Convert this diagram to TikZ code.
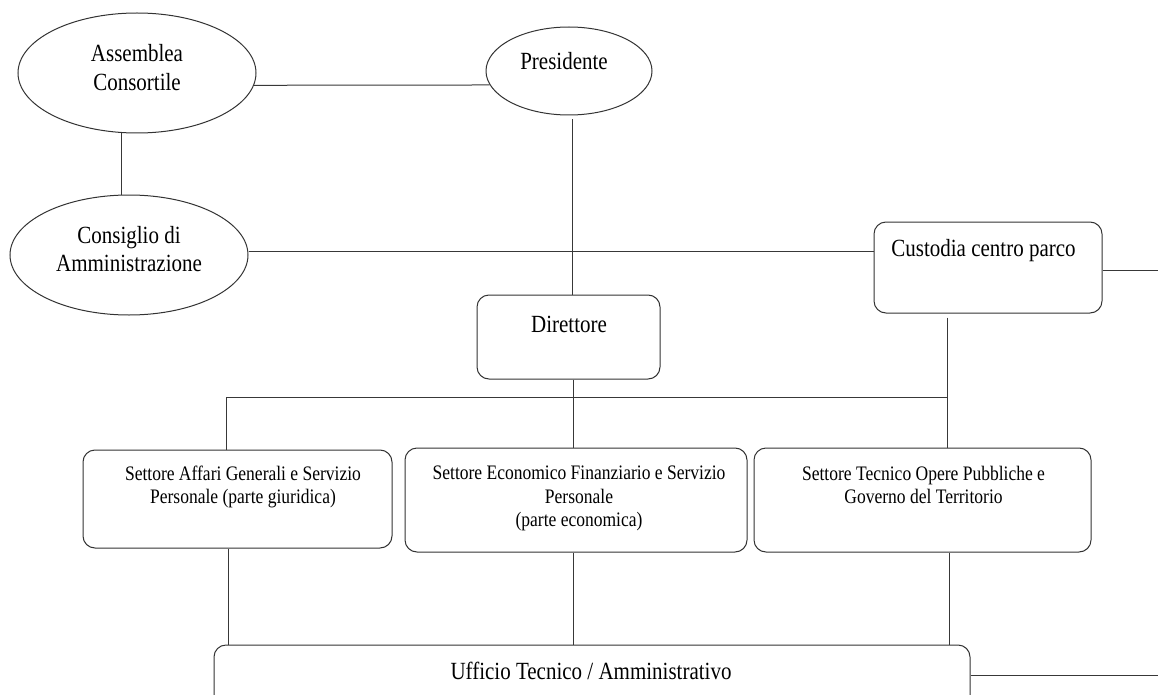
\documentclass[tikz,border=0pt]{standalone}
\usepackage{fontspec}
\setmainfont{Liberation Serif}
\newfontfamily\tnr[FakeStretch=0.85]{Liberation Serif}
\usetikzlibrary{shapes.geometric}
\begin{document}
\begin{tikzpicture}[x=1pt,y=-1pt,
  conn/.style={draw=black!78, line width=1pt},
  oval/.style={draw=black!80, line width=1pt, ellipse, inner sep=0pt},
  rbox/.style={draw=black!80, line width=1pt, rectangle, rounded corners=12pt, inner sep=0pt},
  big/.style={font=\tnr\fontsize{24.7}{28.5}\selectfont, align=center, inner sep=0pt, text=black},
  small/.style={font=\tnr\fontsize{20.6}{23.5}\selectfont, align=center, inner sep=0pt, text=black}]
\path[use as bounding box] (0,0) rectangle (1158,695);
\begin{scope}
\clip (0,0) rectangle (1158,695);
\fill[white] (0,0) rectangle (1158,695);

% shapes
\node[oval, minimum width=238pt, minimum height=120pt] (ass) at (137,73) {};
\node[oval, minimum width=166pt, minimum height=88pt] (pres) at (569,71) {};
\node[oval, minimum width=238pt, minimum height=120pt] (cons) at (129,255) {};
\node[rbox, minimum width=228pt, minimum height=91pt] (cust) at (988,267.5) {};
\node[rbox, minimum width=183pt, minimum height=84pt] (dir) at (568.5,337) {};
\node[rbox, minimum width=309pt, minimum height=98pt] (s1) at (237.5,499) {};
\node[rbox, minimum width=342pt, minimum height=104pt] (s2) at (576,500) {};
\node[rbox, minimum width=337pt, minimum height=104pt] (s3) at (922.5,500) {};
\node[rbox, minimum width=756pt, minimum height=100pt] (uff) at (592,695) {};

% texts
\node[big] (tass) at (137,67.5) {Assemblea\\Consortile};
\node[big] (tpres) at (564,61.5) {Presidente};
\node[big] (tcons) at (129,249) {Consiglio di\\Amministrazione};
\node[big] (tcust) at (983.5,251) {Custodia centro parco};
\node[big] (tdir) at (569,324.5) {Direttore};
\node[small] (ts1) at (243,487) {Settore Affari Generali e Servizio\\Personale (parte giuridica)};
\node[small] (ts2) at (579,498.5) {Settore Economico Finanziario e Servizio\\Personale\\(parte economica)};
\node[small] (ts3) at (923.5,485) {Settore Tecnico Opere Pubbliche e\\Governo del Territorio};
\node[big] (tuff) at (591,671) {Ufficio Tecnico / Amministrativo};

% connectors
\draw[conn] (ass.354) -- (pres.190);
\draw[conn] (ass.south -| 121,0) -- (cons.north -| 121,0);
\draw[conn] (cons.east |- 0,251) -- (cust.west |- 0,251);
\draw[conn] ([yshift=-4pt]pres.south -| 572,0) -- (dir.north -| 572,0);
\coordinate (j1) at (226,397);
\coordinate (j3) at (947,397);
\draw[conn] ([yshift=-4pt]cust.south -| j3) -- (s3.north -| j3);
\draw[conn] (s1.north -| j1) -- (j1) -- (j3);
\draw[conn] (dir.south -| 573,0) -- (s2.north -| 573,0);
\draw[conn] (s1.south -| 228,0) -- (uff.north -| 228,0);
\draw[conn] (s2.south -| 573,0) -- (uff.north -| 573,0);
\draw[conn] (s3.south -| 949,0) -- (uff.north -| 949,0);
\coordinate (e1) at (1158,270.5);
\draw[conn] (cust.east |- e1) -- (e1);
\coordinate (e2) at (1158,675);
\draw[conn] (uff.east |- e2) -- (e2);
\end{scope}
\end{tikzpicture}
\end{document}
